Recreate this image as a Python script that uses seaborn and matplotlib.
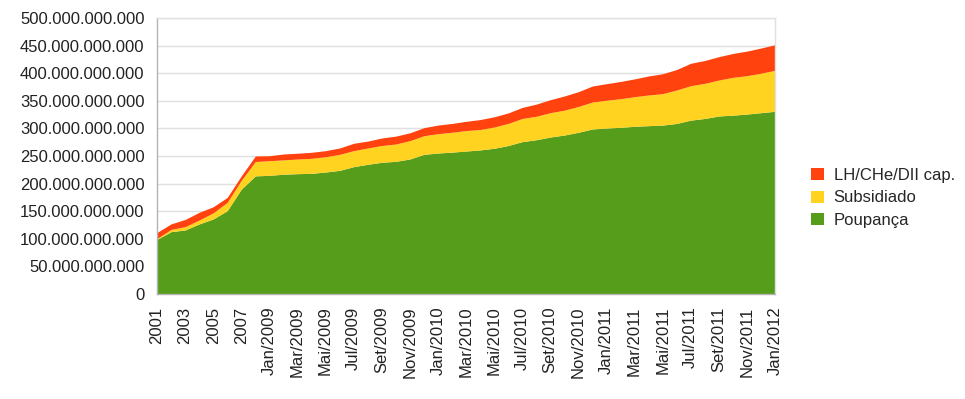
import matplotlib
matplotlib.use("Agg")
import matplotlib.pyplot as plt
import matplotlib.ticker as mticker
import seaborn as sns
import numpy as np

# Categories (years, then months)
years = ["2001", "2002", "2003", "2004", "2005", "2006", "2007", "2008"]
month_names = ["Jan", "Fev", "Mar", "Abr", "Mai", "Jun",
               "Jul", "Ago", "Set", "Out", "Nov", "Dez"]
months = [f"{m}/{y}" for y in (2009, 2010, 2011) for m in month_names] + ["Jan/2012"]
categories = years + months

# Values in billions (R$)
poupanca = [99, 113, 116, 127, 136, 151, 190, 214, 215, 217, 218, 218.6,
            221, 224, 230.7, 235, 238.6, 240.4, 244.6, 253, 255.4, 257, 259,
            261, 264, 269, 276, 279.5, 284.4, 288, 293, 299, 300.7, 302, 303.8,
            305, 306, 309, 315, 318, 322.5, 324, 326, 328.5, 331]
subsidiado = [1.5, 4, 6, 7, 11, 15, 16, 26, 26.5, 26, 26.5, 27.2,
              27.7, 29, 29, 29.5, 30.4, 31.3, 33.2, 33.8, 35, 36, 37,
              37, 38.5, 40, 42, 42.5, 44.1, 45, 46.7, 48.8, 50.3, 51.8, 53.7,
              55.5, 57, 60.6, 62.4, 63.6, 65.2, 68.5, 69.5, 71.5, 74.3]
lh_che_dii = [11, 10, 13, 14, 11, 9, 8, 10, 9, 10.6, 10.5, 10.9,
              11, 11.5, 13.3, 12.5, 13.6, 14.3, 14.2, 14.5, 15.6, 16, 16.8,
              18, 18.5, 19, 20, 22, 23.5, 25.7, 26.8, 29, 30, 31.2, 32.2,
              34.5, 36, 37.1, 40.6, 41.4, 42.3, 43.2, 44.5, 45.6, 46.3]

series_names = ["Poupança", "Subsidiado", "LH/CHe/DII cap."]
colors = ["#579d1c", "#ffd320", "#ff420e"]

sns.set_theme(style="whitegrid")
plt.rcParams["font.family"] = ["Liberation Sans", "DejaVu Sans"]

fig = plt.figure(figsize=(9.65, 3.99), dpi=100)
ax = fig.add_axes([157 / 965, 1 - 294 / 399, 618 / 965, 276 / 399])
ax.set_axisbelow(True)

x = np.arange(len(categories))
vals = [np.array(v) * 1e9 for v in (poupanca, subsidiado, lh_che_dii)]
ax.stackplot(x, *vals, colors=colors, labels=series_names, linewidth=0)

ax.set_xlim(0, len(categories) - 1)
ax.set_ylim(0, 500e9)
ax.yaxis.set_major_locator(mticker.MultipleLocator(50e9))
ax.yaxis.set_major_formatter(
    mticker.FuncFormatter(lambda v, p: f"{int(round(v)):,}".replace(",", ".")))

fs = 12
ax.set_xticks(x)
ax.set_xticklabels([c if i % 2 == 0 else "" for i, c in enumerate(categories)],
                   rotation=90, fontsize=fs, color="#222222")
ax.tick_params(axis="y", labelsize=fs, labelcolor="#222222")
ax.tick_params(axis="both", which="major", direction="out", length=7,
               width=1, color="#b3b3b3", pad=2)
ax.grid(axis="x", visible=False)
ax.grid(axis="y", color="#e0e0e0", linewidth=1)

for side in ("left", "bottom"):
    ax.spines[side].set_color("#b3b3b3")
    ax.spines[side].set_linewidth(1)
for side in ("top", "right"):
    ax.spines[side].set_color("#e0e0e0")
    ax.spines[side].set_linewidth(1)
ax.set_facecolor("white")

handles, labels = ax.get_legend_handles_labels()
fig.legend(handles[::-1], labels[::-1], loc="center left",
           bbox_to_anchor=(811 / 965, 1 - 198 / 399), frameon=False,
           fontsize=fs, handlelength=0.75, handleheight=0.75,
           handletextpad=0.6, labelspacing=0.45, borderpad=0,
           borderaxespad=0)

fig.savefig("out.png", dpi=100, facecolor="white")
